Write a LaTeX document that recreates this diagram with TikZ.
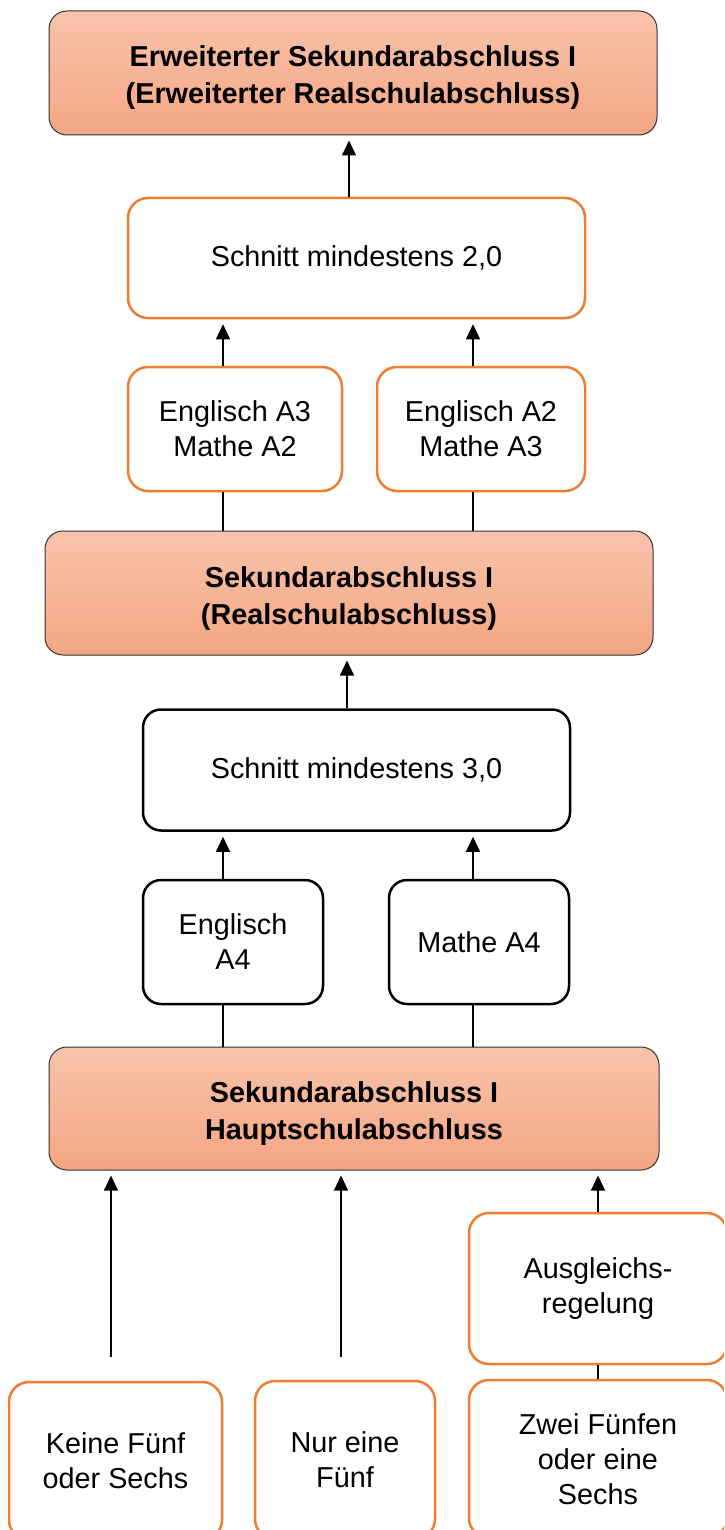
\documentclass[tikz,border=0pt]{standalone}
\usepackage{fontspec}
\setmainfont{Liberation Sans}
\usepackage{tikz}
\usetikzlibrary{arrows.meta}
\definecolor{salmontop}{HTML}{F8C3AB}
\definecolor{salmonbot}{HTML}{F4A683}
\definecolor{boxorange}{HTML}{ED7D31}

\begin{document}
\begin{tikzpicture}
[x=1pt,y=-1pt,
 txt/.style={align=center,inner sep=0pt,font=\fontsize{28.8}{35}\selectfont},
 goal/.style={txt,draw=black!80,line width=1pt,rounded corners=18pt,
   top color=salmontop,bottom color=salmonbot,
   font=\bfseries\fontsize{28.8}{37}\selectfont,
   text height=62pt,text depth=0pt},
 obox/.style={txt,draw=boxorange,line width=2.5pt,rounded corners=20pt,fill=white},
 kbox/.style={txt,draw=black,line width=2.5pt,rounded corners=18pt,fill=white},
 arr/.style={-{Triangle[length=15pt,width=14pt]},line width=1.2pt,shorten >=5pt},
 lin/.style={line width=1.2pt}]
\useasboundingbox (0,0) rectangle (724,1530);
\clip (0,0) rectangle (724,1530);
\node[goal,minimum width=608pt,minimum height=124pt] (goalA) at (353,73)
  {Erweiterter Sekundarabschluss I\\(Erweiterter Realschulabschluss)};
\node[obox,minimum width=457pt,minimum height=120pt] (avgA) at (356.5,258) {Schnitt mindestens 2,0};
\node[obox,minimum width=214pt,minimum height=124pt] (condA1) at (235,429) {Englisch A3\\Mathe A2};
\node[obox,minimum width=208pt,minimum height=124pt] (condA2) at (481,429) {Englisch A2\\Mathe A3};
\node[goal,minimum width=608pt,minimum height=124pt] (goalB) at (349,593)
  {Sekundarabschluss I\\(Realschulabschluss)};
\node[kbox,minimum width=427pt,minimum height=121pt] (avgB) at (356.5,770) {Schnitt mindestens 3,0};
\node[kbox,minimum width=180pt,minimum height=124pt] (condB1) at (233,942) {Englisch\\A4};
\node[kbox,minimum width=180pt,minimum height=124pt] (condB2) at (479,942) {Mathe A4};
\node[goal,minimum width=610pt,minimum height=123pt] (goalC) at (354,1108.5)
  {Sekundarabschluss I\\Hauptschulabschluss};
\node[obox,minimum width=258pt,minimum height=151pt] (comp) at (598,1288.5) {Ausgleichs-\\regelung};
\node[obox,minimum width=213pt,minimum height=158pt] (base1) at (115.5,1461) {Keine Fünf\\oder Sechs};
\node[obox,minimum width=180pt,minimum height=158pt] (base2) at (345,1460) {Nur eine\\Fünf};
\node[obox,minimum width=258pt,minimum height=158pt] (base3) at (598,1459) {Zwei Fünfen\\oder eine\\Sechs};
% connectors
\draw[arr] (avgA.north -| 349,0) -- (goalA.south -| 349,0);
\draw[arr] (condA1.north -| 223,0) -- (avgA.south -| 223,0);
\draw[arr] (condA2.north -| 473,0) -- (avgA.south -| 473,0);
\draw[lin] (goalB.north -| 223,0) -- (condA1.south -| 223,0);
\draw[lin] (goalB.north -| 473,0) -- (condA2.south -| 473,0);
\draw[arr] (avgB.north -| 347,0) -- (goalB.south -| 347,0);
\draw[arr] (condB1.north -| 223,0) -- (avgB.south -| 223,0);
\draw[arr] (condB2.north -| 473,0) -- (avgB.south -| 473,0);
\draw[lin] (goalC.north -| 223,0) -- (condB1.south -| 223,0);
\draw[lin] (goalC.north -| 473,0) -- (condB2.south -| 473,0);
\coordinate (from1) at (111,1357);
\coordinate (from2) at (341,1357);
\draw[arr] (from1) -- (goalC.south -| from1);
\draw[arr] (from2) -- (goalC.south -| from2);
\draw[arr] (comp.north) -- (goalC.south -| comp.north);
\draw[lin] (base3.north) -- (comp.south);
\end{tikzpicture}
\end{document}
